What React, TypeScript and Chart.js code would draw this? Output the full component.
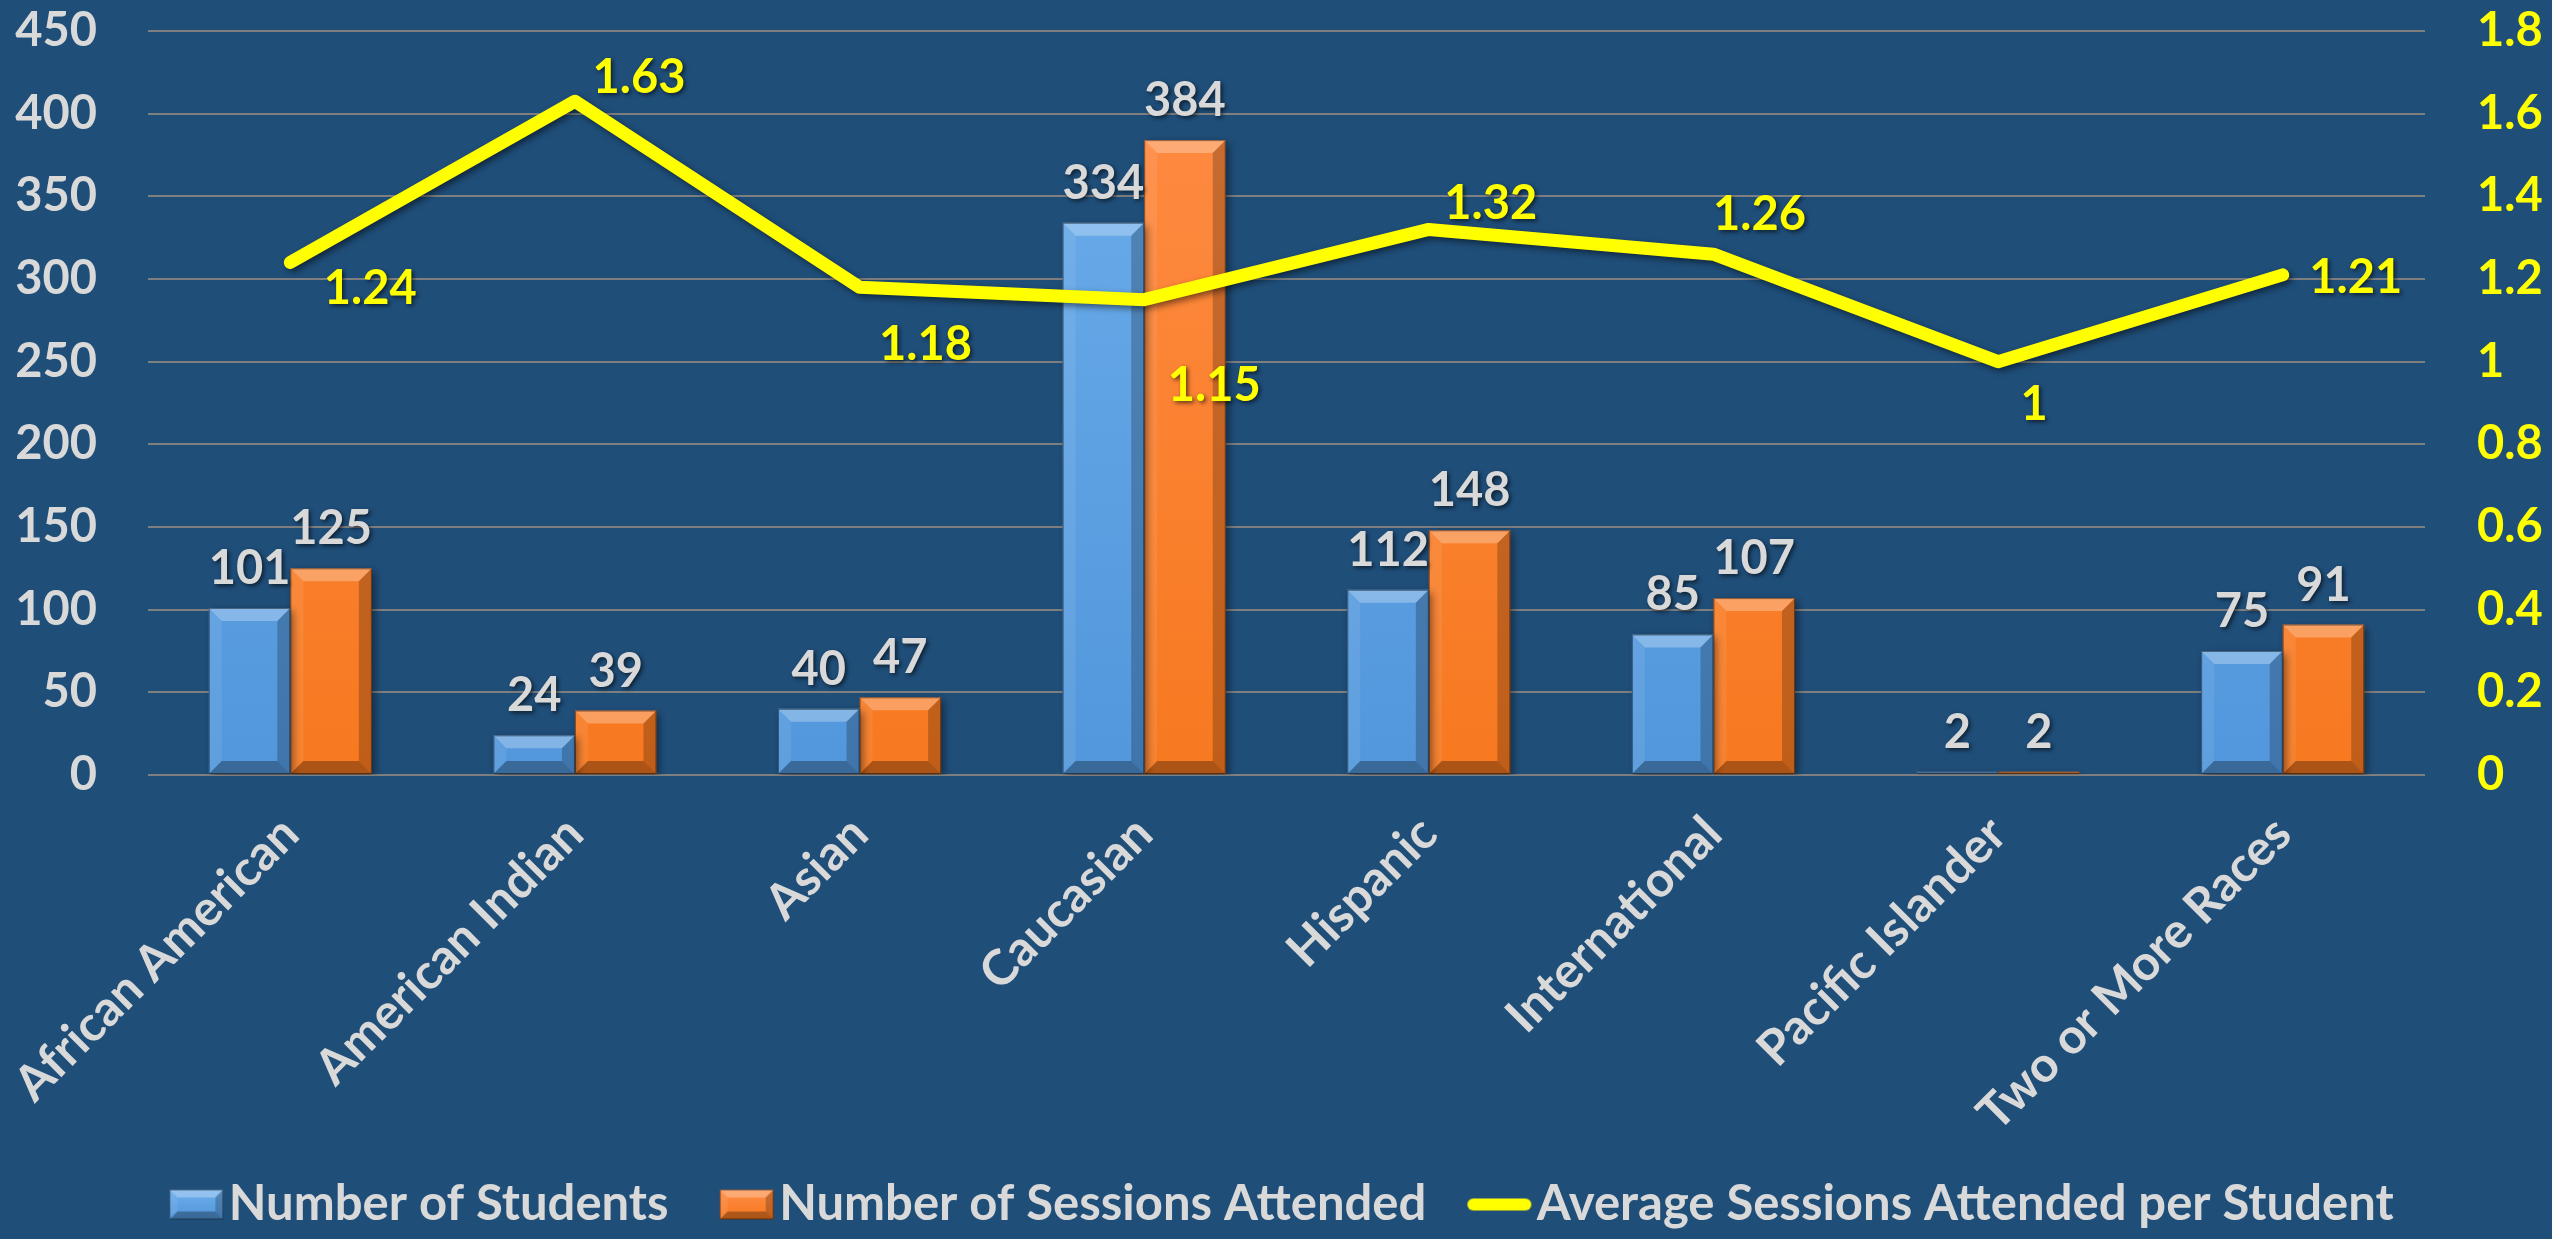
import React, { useEffect, useRef } from 'react';
import { Chart, registerables } from 'chart.js';

Chart.register(...registerables);

// ---------------- data ----------------
const categories = [
  'African American',
  'American Indian',
  'Asian',
  'Caucasian',
  'Hispanic',
  'International',
  'Pacific Islander',
  'Two or More Races',
];
const studentCounts = [101, 24, 40, 334, 112, 85, 2, 75];
const sessionCounts = [125, 39, 47, 384, 148, 107, 2, 91];
const avgSessions = [1.24, 1.63, 1.18, 1.15, 1.32, 1.26, 1, 1.21];
const seriesNames = [
  'Number of Students',
  'Number of Sessions Attended',
  'Average Sessions Attended per Student',
];
const leftAxis = { min: 0, max: 450, step: 50 };
const rightAxis = { min: 0, max: 1.8, step: 0.2 };

// label placement for the line values (pixel offsets from the point)
const avgLabelOffsets: [number, number][] = [
  [80, 26], [64, -23], [66, 58], [70, 86], [62, -26], [46, -39], [36, 43], [73, 3],
];

// ---------------- styles ----------------
const BG = '#1F4E79';
const GRID = '#7F7F7F';
const TEXT = '#D9D9D9';
const YELLOW = '#FFFF00';
const FONT = 'Lato, "Open Sans", "DejaVu Sans", sans-serif';
const FS = 47;
const LEGEND_FS = 49;
const LEGEND_PAD = 40;
const PSW = 46;

function drawBevelRect(ctx: CanvasRenderingContext2D, l: number, t: number, r: number, b: number, d: number) {
  const w = r - l;
  const h = b - t;
  d = Math.max(0, Math.min(d, w / 2, h / 2));
  if (d <= 0.5) return;
  const poly = (pts: number[][], fill: string) => {
    ctx.beginPath();
    ctx.moveTo(pts[0][0], pts[0][1]);
    for (let i = 1; i < pts.length; i++) ctx.lineTo(pts[i][0], pts[i][1]);
    ctx.closePath();
    ctx.fillStyle = fill;
    ctx.fill();
  };
  poly([[l, t], [r, t], [r - d, t + d], [l + d, t + d]], 'rgba(255,255,255,0.28)');
  poly([[l, t], [l + d, t + d], [l + d, b - d], [l, b]], 'rgba(255,255,255,0.08)');
  poly([[r, t], [r, b], [r - d, b - d], [r - d, t + d]], 'rgba(0,0,0,0.22)');
  poly([[l, b], [r, b], [r - d, b - d], [l + d, b - d]], 'rgba(0,0,0,0.30)');
}

function barGradient(ctx: CanvasRenderingContext2D, top: number, bottom: number, c1: string, c2: string) {
  const g = ctx.createLinearGradient(0, top, 0, bottom);
  g.addColorStop(0, c1);
  g.addColorStop(1, c2);
  return g;
}

const BLUE_TOP = '#6DAEEB';
const BLUE_BOT = '#5297DC';
const ORANGE_TOP = '#FF8C45';
const ORANGE_BOT = '#F77920';

function makeBarIcon(top: string, bot: string) {
  const W = PSW + 74;
  const H = 32;
  const c = document.createElement('canvas');
  c.width = W;
  c.height = H;
  const ctx = c.getContext('2d')!;
  const iw = 54;
  const r = W - 18;
  const l = r - iw;
  const t = 1;
  const b = H - 1;
  ctx.fillStyle = barGradient(ctx, t, b, top, bot);
  ctx.fillRect(l, t, iw, b - t);
  drawBevelRect(ctx, l, t, r, b, 8);
  ctx.strokeStyle = 'rgba(0,0,0,0.45)';
  ctx.lineWidth = 1;
  ctx.strokeRect(l + 0.5, t + 0.5, iw - 1, b - t - 1);
  return c;
}

function makeLineIcon() {
  const W = PSW + 74;
  const H = 16;
  const c = document.createElement('canvas');
  c.width = W;
  c.height = H;
  const ctx = c.getContext('2d')!;
  ctx.strokeStyle = YELLOW;
  ctx.lineWidth = 12;
  ctx.lineCap = 'round';
  ctx.beginPath();
  ctx.moveTo(W - 18 - 64 + 6, H / 2);
  ctx.lineTo(W - 18 - 6, H / 2);
  ctx.stroke();
  return c;
}

const bgPlugin = {
  id: 'bgFill',
  beforeDraw(chart: any) {
    const ctx = chart.ctx;
    ctx.save();
    ctx.fillStyle = BG;
    ctx.fillRect(0, 0, chart.width, chart.height);
    ctx.restore();
  },
};

const effectsPlugin = {
  id: 'effects',
  beforeDatasetDraw(chart: any, args: any) {
    const ctx = chart.ctx;
    ctx.save();
    if (args.meta.type === 'bar') {
      ctx.shadowColor = 'rgba(0,0,0,0.45)';
      ctx.shadowBlur = 8;
      ctx.shadowOffsetX = 3;
      ctx.shadowOffsetY = 3;
    } else {
      ctx.shadowColor = 'rgba(0,0,0,0.5)';
      ctx.shadowBlur = 6;
      ctx.shadowOffsetX = 3;
      ctx.shadowOffsetY = 3;
    }
  },
  afterDatasetDraw(chart: any, args: any) {
    const ctx = chart.ctx;
    ctx.restore();
    if (args.meta.type !== 'bar') return;
    ctx.save();
    args.meta.data.forEach((el: any) => {
      const p = el.getProps(['x', 'y', 'base', 'width'], true);
      const l = p.x - p.width / 2;
      const r = p.x + p.width / 2;
      const t = Math.min(p.y, p.base);
      const b = Math.max(p.y, p.base);
      drawBevelRect(ctx, l, t, r, b, 13);
      ctx.strokeStyle = 'rgba(0,0,0,0.45)';
      ctx.lineWidth = 1;
      ctx.strokeRect(l + 0.5, t + 0.5, p.width - 1, Math.max(b - t - 1, 0));
    });
    ctx.restore();
  },
};

const labelsPlugin = {
  id: 'valueLabels',
  afterDatasetsDraw(chart: any) {
    const ctx = chart.ctx;
    ctx.save();
    ctx.font = `bold ${FS}px ${FONT}`;
    ctx.shadowColor = 'rgba(0,0,0,0.6)';
    ctx.shadowBlur = 4;
    ctx.shadowOffsetX = 2;
    ctx.shadowOffsetY = 2;
    [0, 1].forEach((di) => {
      const meta = chart.getDatasetMeta(di);
      const values = chart.data.datasets[di].data;
      meta.data.forEach((el: any, i: number) => {
        const p = el.getProps(['x', 'y'], true);
        ctx.fillStyle = TEXT;
        ctx.textAlign = 'center';
        ctx.textBaseline = 'alphabetic';
        ctx.fillText(String(values[i]), p.x, p.y - 24);
      });
    });
    const lineMeta = chart.getDatasetMeta(2);
    const lineValues = chart.data.datasets[2].data;
    lineMeta.data.forEach((el: any, i: number) => {
      const p = el.getProps(['x', 'y'], true);
      const off = avgLabelOffsets[i];
      ctx.fillStyle = YELLOW;
      ctx.textAlign = 'center';
      ctx.textBaseline = 'middle';
      ctx.fillText(String(lineValues[i]), p.x + off[0], p.y + off[1]);
    });
    ctx.restore();
  },
};

export default function App() {
  const ref = useRef<HTMLCanvasElement | null>(null);

  useEffect(() => {
    document.body.style.margin = '0';
    document.body.style.background = BG;
    const canvas = ref.current;
    if (!canvas) return;

    const icons = [makeBarIcon(BLUE_TOP, BLUE_BOT), makeBarIcon(ORANGE_TOP, ORANGE_BOT), makeLineIcon()];

    const scriptGrad = (top: string, bot: string) => (c: any) => {
      const chart = c.chart;
      const ca = chart.chartArea;
      if (!ca) return bot;
      return barGradient(chart.ctx, ca.top, ca.bottom, top, bot);
    };

    const legendHeight = LEGEND_FS + LEGEND_PAD + 10;

    const chart = new Chart(canvas, {
      type: 'bar',
      data: {
        labels: categories,
        datasets: [
          {
            type: 'bar',
            label: seriesNames[0],
            data: studentCounts,
            backgroundColor: scriptGrad(BLUE_TOP, BLUE_BOT),
            borderWidth: 0,
            yAxisID: 'y',
            order: 1,
            categoryPercentage: 0.573,
            barPercentage: 1,
          },
          {
            type: 'bar',
            label: seriesNames[1],
            data: sessionCounts,
            backgroundColor: scriptGrad(ORANGE_TOP, ORANGE_BOT),
            borderWidth: 0,
            yAxisID: 'y',
            order: 1,
            categoryPercentage: 0.573,
            barPercentage: 1,
          },
          {
            type: 'line',
            label: seriesNames[2],
            data: avgSessions,
            borderColor: YELLOW,
            backgroundColor: YELLOW,
            borderWidth: 13,
            borderCapStyle: 'round',
            borderJoinStyle: 'round',
            pointRadius: 0,
            tension: 0,
            fill: false,
            yAxisID: 'y1',
            order: 0,
          } as any,
        ],
      },
      options: {
        responsive: false,
        animation: false,
        layout: { padding: { top: 31, left: 0, right: 0, bottom: 0 } },
        plugins: {
          tooltip: { enabled: false },
          legend: {
            position: 'bottom',
            align: 'center',
            labels: {
              usePointStyle: true,
              pointStyleWidth: PSW,
              padding: LEGEND_PAD,
              color: TEXT,
              font: { family: FONT, size: LEGEND_FS, weight: 'bold' },
              generateLabels: (ch: any) =>
                ch.data.datasets.map((ds: any, i: number) => ({
                  text: ds.label,
                  pointStyle: icons[i],
                  fillStyle: 'transparent',
                  strokeStyle: 'transparent',
                  lineWidth: 0,
                  hidden: false,
                  datasetIndex: i,
                  fontColor: TEXT,
                })),
            },
          },
        },
        scales: {
          x: {
            offset: true,
            grid: { display: false, drawTicks: false },
            border: { display: false },
            ticks: {
              color: TEXT,
              font: { family: FONT, size: 49, weight: 'bold' },
              minRotation: 45,
              maxRotation: 45,
              autoSkip: false,
              padding: 30,
            },
            afterFit: (s: any) => {
              s.height = 1239 - legendHeight - 775;
              s.paddingLeft = 0;
              s.paddingRight = 0;
            },
          },
          y: {
            position: 'left',
            min: leftAxis.min,
            max: leftAxis.max,
            grid: { color: GRID, lineWidth: 2, drawTicks: false },
            border: { display: false },
            ticks: {
              stepSize: leftAxis.step,
              color: TEXT,
              font: { family: FONT, size: FS, weight: 'bold' },
              padding: 51,
            },
            afterFit: (s: any) => {
              s.width = 148;
              s.paddingTop = 0;
              s.paddingBottom = 0;
            },
          },
          y1: {
            position: 'right',
            min: rightAxis.min,
            max: rightAxis.max,
            grid: { display: false, drawTicks: false },
            border: { display: false },
            ticks: {
              stepSize: rightAxis.step,
              color: YELLOW,
              font: { family: FONT, size: FS, weight: 'bold' },
              padding: 52,
              callback: (v: any) => String(Math.round(Number(v) * 10) / 10),
            },
            afterFit: (s: any) => {
              s.width = 2552 - 2425;
              s.paddingTop = 0;
              s.paddingBottom = 0;
            },
          },
        },
      } as any,
      plugins: [bgPlugin, effectsPlugin, labelsPlugin],
    });

    return () => chart.destroy();
  }, []);

  return (
    <div style={{ width: 2552, height: 1239, background: BG }}>
      <canvas ref={ref} width={2552} height={1239} style={{ display: 'block', width: 2552, height: 1239 }} />
    </div>
  );
}
